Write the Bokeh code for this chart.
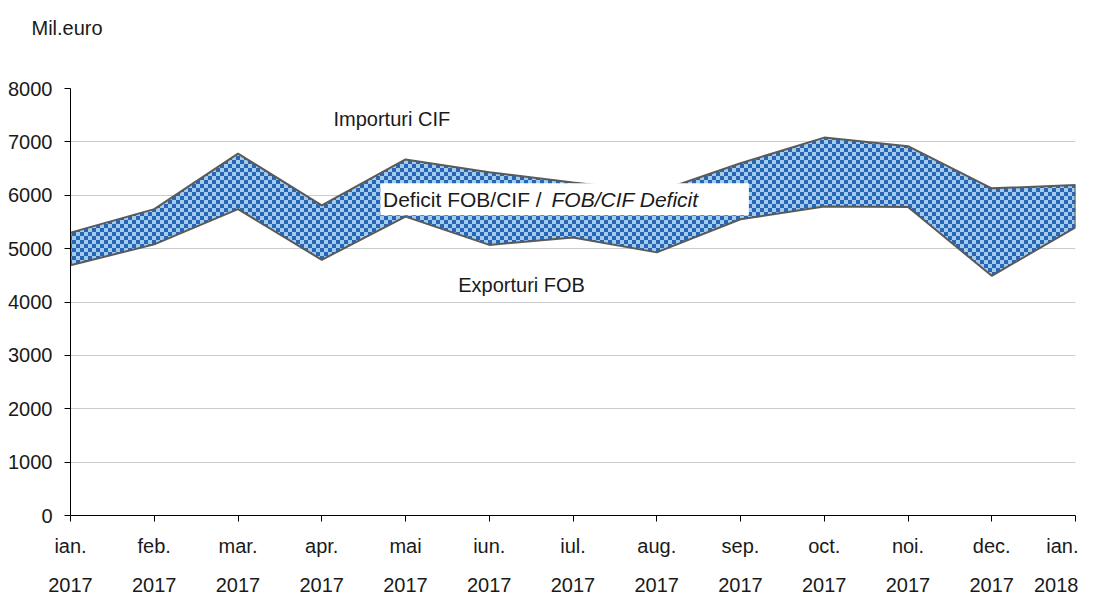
import base64
import struct
import zlib

from bokeh.plotting import figure
from bokeh.models import (Range1d, FixedTicker, LinearAxis, Label, BoxAnnotation,
                          ImageURLTexture, Title)
from bokeh.embed import file_html
from bokeh.resources import INLINE

# ---- data (Mil. euro) ----
months = ["ian.", "feb.", "mar.", "apr.", "mai", "iun.", "iul.", "aug.",
          "sep.", "oct.", "noi.", "dec.", "ian."]
years = ["2017", "2017", "2017", "2017", "2017", "2017", "2017", "2017",
         "2017", "2017", "2017", "2017", "2018"]
importuri_cif = [5300, 5740, 6780, 5810, 6670, 6430, 6240, 6060, 6600, 7080, 6920, 6130, 6190]
exporturi_fob = [4690, 5080, 5740, 4790, 5600, 5070, 5210, 4930, 5550, 5790, 5780, 4490, 5400]
y_ticks = [0, 1000, 2000, 3000, 4000, 5000, 6000, 7000, 8000]

FONT = "Liberation Sans"
TXT = "#1a1a1a"
DARK = (0x27, 0x66, 0xb4)
LIGHT = (0xa3, 0xcb, 0xee)


def checker_png(size, cell, c1, c2):
    raw = b""
    for yy in range(size):
        row = b"\x00"
        for xx in range(size):
            row += bytes(c1 if ((xx // cell + yy // cell) % 2 == 0) else c2)
        raw += row

    def chunk(tag, data):
        return (struct.pack(">I", len(data)) + tag + data +
                struct.pack(">I", zlib.crc32(tag + data) & 0xffffffff))

    ihdr = struct.pack(">IIBBBBB", size, size, 8, 2, 0, 0, 0)
    png = (b"\x89PNG\r\n\x1a\n" + chunk(b"IHDR", ihdr) +
           chunk(b"IDAT", zlib.compress(raw)) + chunk(b"IEND", b""))
    return "data:image/png;base64," + base64.b64encode(png).decode("ascii")


idx = list(range(len(months)))

p = figure(width=1078, height=594, output_backend="svg", toolbar_location=None,
           x_range=Range1d(0, len(months) - 1), y_range=Range1d(y_ticks[0], y_ticks[-1]),
           min_border_left=70, min_border_right=3, min_border_top=88, min_border_bottom=78)
p.outline_line_color = None
p.background_fill_color = "white"
p.xgrid.visible = False
p.ygrid.grid_line_color = "#cccccc"
p.ygrid.grid_line_width = 1
p.ygrid.ticker = FixedTicker(ticks=y_ticks)

# "Mil.euro" as the main title, with a blank spacer title between it and the frame
p.title.text = "Mil.euro"
p.title.align = "left"
p.title.offset = -39
p.title.standoff = 17
p.title.text_font = FONT
p.title.text_font_size = "20px"
p.title.text_font_style = "normal"
p.title.text_color = TXT
spacer = Title(text=" ", standoff=17, text_font=FONT, text_font_size="20px")
p.add_layout(spacer, "above")

# y axis
ya = p.yaxis[0]
ya.ticker = FixedTicker(ticks=y_ticks)
ya.axis_line_color = "black"
ya.major_tick_line_color = "black"
ya.major_tick_out = 6
ya.major_tick_in = 0
ya.minor_tick_line_color = None
ya.major_label_standoff = 12
ya.major_label_text_font = FONT
ya.major_label_text_font_size = "20px"
ya.major_label_text_color = TXT

# x axis (months)
xa = p.xaxis[0]
xa.ticker = FixedTicker(ticks=idx)
xa.major_label_overrides = {i: m for i, m in enumerate(months)}
xa.axis_line_color = "black"
xa.major_tick_line_color = "black"
xa.major_tick_out = 6
xa.major_tick_in = 0
xa.minor_tick_line_color = None
xa.major_label_standoff = 13
xa.major_label_text_font = FONT
xa.major_label_text_font_size = "20px"
xa.major_label_text_color = TXT

# second x axis (years)
year_axis = LinearAxis(ticker=FixedTicker(ticks=idx),
                       major_label_overrides={i: y for i, y in enumerate(years)},
                       axis_line_color=None, major_tick_line_color=None,
                       minor_tick_line_color=None, major_label_standoff=12,
                       major_label_text_font=FONT, major_label_text_font_size="20px",
                       major_label_text_color=TXT)
p.add_layout(year_axis, "below")

# checkerboard band between exports and imports
checker = ImageURLTexture(url=checker_png(8, 4, DARK, LIGHT))
xs = idx + idx[::-1]
ys = importuri_cif + exporturi_fob[::-1]
p.patch(xs, ys, fill_color="#6599d1", line_color="#5a5a5a", line_width=2,
        hatch_pattern="checker", hatch_extra={"checker": checker})

# annotations
p.add_layout(Label(x=3.14, y=7421, text="Importuri CIF", text_font=FONT,
                   text_font_size="20px", text_color=TXT, text_baseline="middle"))
p.add_layout(Label(x=4.63, y=4318, text="Exporturi FOB", text_font=FONT,
                   text_font_size="20px", text_color=TXT, text_baseline="middle"))
p.add_layout(BoxAnnotation(left=3.70, right=8.10, bottom=5626, top=6224,
                           fill_color="white", fill_alpha=1.0, line_color=None))
p.add_layout(Label(x=3.731, y=5925, text="Deficit FOB/CIF / ", text_font=FONT,
                   text_font_size="21px", text_color=TXT, text_baseline="middle"))
p.add_layout(Label(x=5.743, y=5925, text="FOB/CIF Deficit", text_font=FONT,
                   text_font_style="italic",
                   text_font_size="21px", text_color=TXT, text_baseline="middle"))

open("out.html", "w").write(file_html(p, INLINE))
